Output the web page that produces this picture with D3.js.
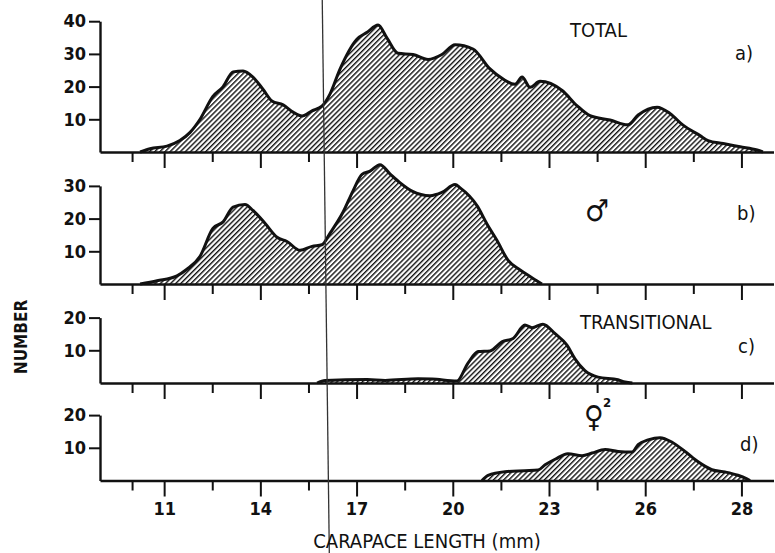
<!DOCTYPE html>
<html>
<head>
<meta charset="utf-8">
<script src="https://cdn.jsdelivr.net/npm/d3@7"></script>
<style>
  body { margin: 0; background: #fff; }
  svg text { font-family: "DejaVu Sans Condensed", "DejaVu Sans", sans-serif; font-stretch: condensed; fill: #111; }
  .axis path, .axis line { stroke: #111; }
  .axis path { stroke-width: 2.4; }
  .axis line { stroke-width: 2; }
  .axis text { font-weight: bold; font-size: 18px; }
</style>
</head>
<body>
<div id="chart"></div>
<script>
// carapace length (mm) and number of animals
const totalLength = [10.25, 10.56, 11.09, 11.49, 11.81, 12.12, 12.52, 12.84, 13.15, 13.46, 13.77, 14.08, 14.36, 14.71, 15.02, 15.30, 15.61, 15.92, 16.17, 16.48, 17.01, 17.33, 17.67, 17.95, 18.29, 18.76, 19.23, 19.66, 20.07, 20.63, 21.16, 21.57, 21.94, 22.16, 22.41, 22.72, 23.41, 23.87, 24.28, 24.90, 25.46, 25.78, 26.37, 26.77, 27.18, 27.71, 27.96, 28.43, 28.96, 29.49, 29.67]
const totalCount = [0, 1.0, 1.8, 3.5, 6, 10, 17, 20, 24.5, 24.8, 22.9, 19.2, 15.6, 14.4, 12.2, 11, 12.6, 14, 17.7, 25.3, 34.5, 36.6, 38.8, 34.8, 30.2, 29.8, 28.3, 29.8, 32.8, 31.5, 25.4, 22.3, 20.7, 22.9, 19.8, 21.6, 18.8, 14.2, 11.1, 9.8, 8.3, 11.3, 13.7, 11.8, 8.2, 5.0, 3.5, 2.6, 1.6, 0.6, 0]

const maleLength = [10.25, 10.78, 11.40, 11.71, 12.12, 12.52, 12.84, 13.15, 13.52, 13.77, 14.15, 14.52, 14.83, 15.24, 15.61, 15.92, 16.17, 16.58, 16.89, 17.17, 17.42, 17.73, 18.04, 18.35, 18.73, 19.29, 19.66, 20.07, 20.23, 20.76, 21.07, 21.38, 21.72, 22.10, 22.41, 22.78]
const maleCount = [0, 1.0, 2.5, 4.5, 8.5, 17, 19, 23.5, 24.3, 22.5, 18.5, 14.3, 13, 10.3, 11.5, 12, 15.5, 22, 28.5, 33.5, 34.5, 36.5, 33.7, 31, 28.4, 27, 28, 30.4, 29.4, 23.9, 18.3, 13.3, 7.3, 4.3, 2.3, 0]

const transLength = [15.77, 16.02, 17.33, 17.89, 18.92, 19.35, 20.13, 20.47, 20.79, 21.16, 21.53, 21.88, 22.25, 22.47, 22.81, 23.19, 23.56, 23.81, 24.12, 24.53, 25.15, 25.37, 25.6]
const transCount = [0, 0.8, 1.1, 0.8, 1.3, 1.2, 0.6, 6, 9.6, 9.8, 12.6, 13.6, 17.7, 16.9, 18.0, 15.1, 11.6, 7.4, 3.8, 1.8, 1.0, 0.3, 0]

const femaleLength = [20.91, 21.10, 21.63, 22.25, 22.66, 22.88, 23.19, 23.59, 24.03, 24.34, 24.75, 25.15, 25.59, 25.78, 26.09, 26.46, 26.84, 27.24, 27.65, 28.08, 28.49, 28.89, 29.17, 29.27]
const femaleCount = [0, 1.6, 2.7, 3.0, 3.2, 4.8, 6.5, 8.2, 7.6, 8.4, 9.5, 8.9, 8.7, 11.0, 12.4, 13.1, 11.7, 8.9, 5.7, 3.3, 2.6, 1.6, 0.5, 0]

const xTickValues = [10, 11, 12.5, 14, 15.5, 17, 18.5, 20, 21.5, 23, 24.5, 26, 27.5, 29]
const xTickLabels = ["", "11", "", "14", "", "17", "", "20", "", "23", "", "26", "", "28"]
const cutLength = [15.93, 16.15] // the thin vertical marker, top and bottom

const width = 775, height = 553;
const unit = 3.27; // px per animal

const svg = d3.select("#chart")
    .append("svg")
    .attr("width", width)
    .attr("height", height)

svg.append("rect").attr("width", width).attr("height", height).attr("fill", "#fff")

svg.append("defs").append("pattern")
    .attr("id", "hatch")
    .attr("patternUnits", "userSpaceOnUse")
    .attr("width", 3.6).attr("height", 3.6)
    .attr("patternTransform", "rotate(45)")
    .append("rect")
    .attr("width", 1.4).attr("height", 3.6)
    .attr("fill", "#111")

const x = d3.scaleLinear().domain([9, 30]).range([100, 773.5])

const panels = [
    { len: totalLength, n: totalCount, base: 152, top: 40, ticks: [10, 20, 30, 40] },
    { len: maleLength, n: maleCount, base: 284, top: 30, ticks: [10, 20, 30] },
    { len: transLength, n: transCount, base: 383, top: 20, ticks: [10, 20] },
    { len: femaleLength, n: femaleCount, base: 480.5, top: 20, ticks: [10, 20] }
]

panels.forEach(function (p, i) {
    const y = d3.scaleLinear().domain([0, p.top]).range([p.base, p.base - p.top * unit])
    const pts = p.len.map((d, j) => ({ len: d, n: p.n[j] }))

    const area = d3.area().curve(d3.curveMonotoneX)
        .x(d => x(d.len)).y0(y(0)).y1(d => y(d.n))
    const line = d3.line().curve(d3.curveMonotoneX)
        .x(d => x(d.len)).y(d => y(d.n))

    svg.append("path").datum(pts)
        .attr("d", area)
        .attr("fill", "url(#hatch)")

    const xAxis = d3.axisBottom(x)
        .tickValues(xTickValues)
        .tickSizeInner(10)
        .tickSizeOuter(0)
        .tickPadding(12)
        .tickFormat((d, j) => xTickLabels[j])
    const gx = svg.append("g")
        .attr("class", "axis x-axis")
        .attr("transform", "translate(0," + p.base + ")")
        .call(xAxis)
    gx.selectAll(".tick line").attr("y2", (d, j) => xTickLabels[j] ? 16 : 10)
    if (i < 3) gx.selectAll(".tick text").remove()

    const yAxis = d3.axisLeft(y)
        .tickValues(p.ticks)
        .tickSizeInner(11)
        .tickSizeOuter(0)
        .tickPadding(3)
    svg.append("g")
        .attr("class", "axis y-axis")
        .attr("transform", "translate(" + x(9) + ",0)")
        .call(yAxis)

    svg.append("path").datum(pts)
        .attr("d", line)
        .attr("fill", "none")
        .attr("stroke", "#111")
        .attr("stroke-width", 3)
        .attr("stroke-linejoin", "round")
})

// vertical marker
svg.append("line")
    .attr("x1", x(cutLength[0])).attr("y1", 0)
    .attr("x2", x(cutLength[1])).attr("y2", height)
    .attr("stroke", "#333").attr("stroke-width", 1.3)

// labels
const label = (t, lx, ly, size, extra) => {
    const el = svg.append("text").text(t).attr("x", lx).attr("y", ly).attr("font-size", size)
    if (extra) extra(el)
    return el
}
label("TOTAL", 570, 37, 20)
label("a)", 735, 60, 20)
label("b)", 737, 220, 20)
label("TRANSITIONAL", 580, 329, 20)
label("c)", 738, 353, 20)
label("d)", 740, 451, 20)
label("♂", 597, 221, 30, el => el.attr("text-anchor", "middle").attr("font-weight", "bold"))
label("♀", 594, 427, 30, el => el.attr("text-anchor", "middle").attr("font-weight", "bold"))
label("2", 603, 407, 13, el => el.attr("font-weight", "bold"))
label("CARAPACE LENGTH (mm)", 427, 548, 20, el => el.attr("text-anchor", "middle"))
label("NUMBER", 0, 0, 17, el => el.attr("text-anchor", "middle").attr("font-weight", "bold")
    .attr("transform", "translate(27,337) rotate(-90)"))
</script>
</body>
</html>
